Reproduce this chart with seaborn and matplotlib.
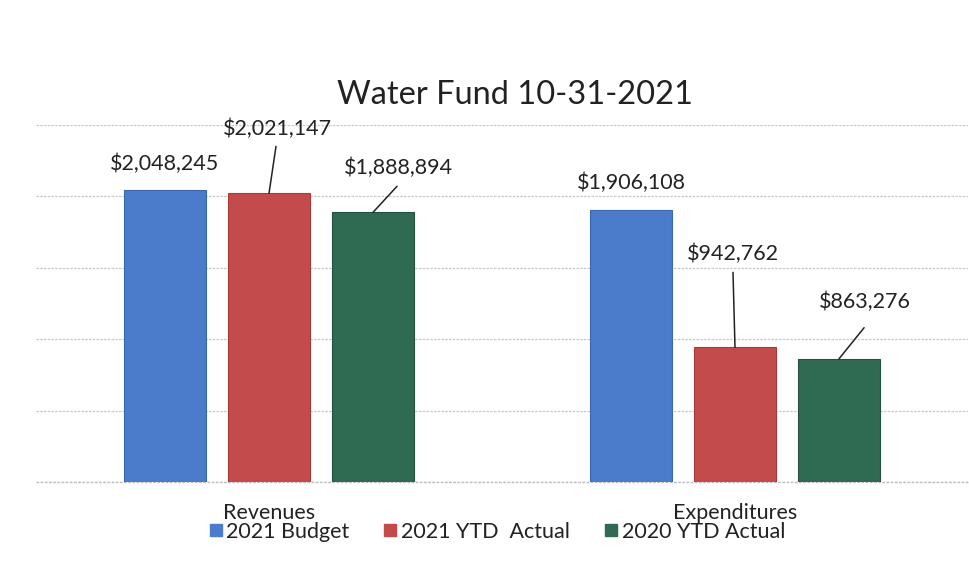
import matplotlib
matplotlib.use("Agg")
import matplotlib.pyplot as plt
import seaborn as sns
import pandas as pd
from matplotlib.lines import Line2D

categories = ["Revenues", "Expenditures"]
series = ["2021 Budget", "2021 YTD  Actual", "2020 YTD Actual"]
budget_2021 = [2048245, 1906108]
ytd_2021 = [2021147, 942762]
ytd_2020 = [1888894, 863276]
colors = ["#4a7ccb", "#c44b4c", "#2f6a52"]
edge_colors = ["#3a68b0", "#a83a3c", "#24503e"]

rows = []
for s, vals in zip(series, [budget_2021, ytd_2021, ytd_2020]):
    for c, v in zip(categories, vals):
        rows.append({"category": c, "series": s, "value": v})
df = pd.DataFrame(rows)

sns.set_theme(style="white")
plt.rcParams["font.family"] = ["Lato", "DejaVu Sans"]

fig = plt.figure(figsize=(9.69, 5.68), dpi=100)
ax = fig.add_axes([36 / 969, 1 - 482 / 568, 932 / 969, (482 - 125) / 568])

sns.barplot(data=df, x="category", y="value", hue="series", order=categories,
            hue_order=series, palette=colors, saturation=1, width=0.67, gap=0.21,
            legend=False, ax=ax, zorder=3)

ax.set_ylim(0, 2500000)
ax.set_xlim(-0.5, 1.5)
ax.set_yticks([0, 500000, 1000000, 1500000, 2000000, 2500000])
ax.set_yticklabels([])
ax.tick_params(axis="y", length=0)
ax.tick_params(axis="x", length=0, pad=15, labelsize=15.5, labelcolor="#222222")
ax.set_xlabel("")
ax.set_ylabel("")
ax.grid(axis="y", color="#c8c8c8", linewidth=0.9, linestyle=(0, (2, 1)), zorder=0)
ax.axhline(0, color="#bdbdbd", linewidth=1.0, linestyle=(0, (2, 1)), zorder=1, clip_on=False)
for sp in ax.spines.values():
    sp.set_visible(False)

# label offsets in pixels (text center, optional leader end) per series per category
text_off = {
    (0, 0): (0, 26), (0, 1): (0, 27),
    (1, 0): (8, 64), (1, 1): (-2, 93),
    (2, 0): (25, 44), (2, 1): (26, 57),
}
line_off = {
    (1, 0): (7, 47), (1, 1): (-2, 75),
    (2, 0): (24, 26), (2, 1): (25, 31),
}

for si, cont in enumerate(ax.containers):
    for ci, bar in enumerate(cont):
        bar.set_edgecolor(edge_colors[si])
        bar.set_linewidth(0.8)
        xc = bar.get_x() + bar.get_width() / 2
        top = bar.get_height()
        val = [budget_2021, ytd_2021, ytd_2020][si][ci]
        dx, dy = text_off[(si, ci)]
        ax.annotate(f"${val:,.0f}", xy=(xc, top), xytext=(dx, dy),
                    textcoords="offset pixels", ha="center", va="center",
                    fontsize=15.5, color="#222222")
        if (si, ci) in line_off:
            lx, ly = line_off[(si, ci)]
            ax.annotate("", xy=(xc, top), xytext=(lx, ly), textcoords="offset pixels",
                        arrowprops=dict(arrowstyle="-", color="#222222", lw=1.1,
                                        shrinkA=0, shrinkB=0))

fig.text(515 / 969, 1 - 95 / 568, "Water Fund 10-31-2021", ha="center", va="center",
         fontsize=23.5, color="#222222")

handles = [Line2D([0], [0], marker="s", linestyle="", markersize=9,
                  markerfacecolor=c, markeredgecolor=c) for c in colors]
fig.legend(handles, series, loc="center", bbox_to_anchor=(496 / 969, 1 - 532 / 568),
           ncol=3, frameon=False, fontsize=15.5, handletextpad=0.1, columnspacing=1.5,
           handlelength=0.8, labelcolor="#222222")

fig.savefig("out.png", dpi=100, facecolor="white")
